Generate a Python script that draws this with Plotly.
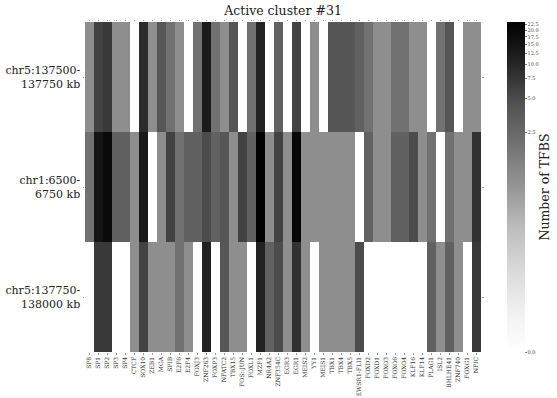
import numpy as np
import plotly.graph_objects as go

tfs = ["SP8", "SP1", "SP2", "SP3", "SP4", "CTCF", "SOX10", "ZEB1", "MGA", "SPIB",
       "E2F6", "E2F4", "FOXJ3", "ZNF263", "FOXP3", "NFATC2", "TBX15", "FOS::JUN",
       "FOXL1", "MZF1", "NR4A2", "ZNF354C", "EGR3", "EGR1", "MEIS2", "YY1", "MEIS1",
       "TBX1", "TBX4", "TBX5", "EWSR1-FLI1", "FOXD2", "FOXD1", "FOXO3", "FOXO6",
       "FOXO4", "KLF16", "KLF14", "PLAG1", "ISL2", "BHLHE41", "ZNF740", "FOXG1", "NFIC"]

regions = ["chr5:137500-<br>137750 kb", "chr1:6500-<br>6750 kb", "chr5:137750-<br>138000 kb"]

counts_chr5_137500 = [1, 6, 7, 1, 1, 0, 9, 1, 4, 2, 1, 0, 2, 13, 2, 1, 4, 0, 2, 11, 0, 3,
                      0, 6, 0, 1, 0, 4, 4, 4, 3, 2, 1, 1, 2, 2, 1, 1, 0, 2, 4, 0, 1, 1]
counts_chr1_6500 = [2, 15, 19, 3, 3, 1, 13, 0, 1, 6, 2, 3, 3, 5, 3, 4, 1, 6, 3, 23, 1, 6,
                    1, 20, 1, 1, 1, 1, 1, 1, 0, 3, 1, 1, 3, 3, 5, 1, 2, 0, 2, 1, 1, 8]
counts_chr5_137750 = [0, 7, 7, 0, 0, 1, 6, 1, 1, 1, 2, 1, 0, 11, 0, 4, 1, 1, 0, 11, 3, 5,
                      1, 8, 1, 0, 1, 1, 1, 1, 5, 0, 0, 0, 0, 0, 0, 0, 3, 1, 3, 1, 0, 7]

cb_ticks = [0.0, 2.5, 5.0, 7.5, 10.0, 12.5, 15.0, 17.5, 20.0, 22.5]

# nonlinear (log-like) colour normalisation
C = 0.03
VMAX = 23.6


def norm(x):
    return np.log1p(np.asarray(x, dtype=float) / C) / np.log1p(VMAX / C)


counts = np.array([counts_chr5_137500, counts_chr1_6500, counts_chr5_137750])
z = norm(counts)

greys = [[0.0, "#ffffff"], [0.125, "#f0f0f0"], [0.25, "#d9d9d9"], [0.375, "#bdbdbd"],
         [0.5, "#969696"], [0.625, "#737373"], [0.75, "#525252"], [0.875, "#252525"],
         [1.0, "#000000"]]

FONT = "DejaVu Serif"

fig = go.Figure(go.Heatmap(
    z=z, x=tfs, y=regions, customdata=counts,
    hovertemplate="%{y}<br>%{x}: %{customdata}<extra></extra>",
    colorscale=greys, zmin=0, zmax=1,
    colorbar=dict(
        x=(507 - 85) / 396, xanchor="left", xref="paper", xpad=0, ypad=0,
        y=0.5, yanchor="middle", len=1.0, lenmode="fraction",
        thickness=18, outlinewidth=0,
        tickvals=list(norm(cb_ticks)), ticktext=[f"{v:.1f}" for v in cb_ticks],
        ticks="outside", ticklen=2, tickwidth=0.6, tickcolor="#777",
        tickfont=dict(family=FONT, size=5, color="#444"),
        title=dict(text="Number of TFBS", side="right",
                   font=dict(family=FONT, size=12.5, color="#222")),
    ),
))

fig.update_layout(
    width=557, height=398,
    margin=dict(l=85, r=76, t=22, b=46, autoexpand=False),
    paper_bgcolor="white", plot_bgcolor="white",
    font=dict(family=FONT, color="#222"),
    title=dict(text="Active cluster #31", x=(283) / 557, xanchor="center",
               y=1 - 11 / 398, yanchor="middle",
               font=dict(family=FONT, size=12.5, color="#222")),
)
fig.update_xaxes(tickangle=-90, tickfont=dict(family=FONT, size=6, color="#333"),
                 ticks="outside", ticklen=1.5, tickcolor="#999", tickwidth=0.6,
                 mirror="ticks", showgrid=False, zeroline=False, showline=False)
fig.update_yaxes(autorange="reversed", tickfont=dict(family=FONT, size=11, color="#222"),
                 ticks="outside", ticklen=1.5, tickcolor="#999", tickwidth=0.6,
                 mirror="ticks", showgrid=False, zeroline=False, showline=False)

fig.write_html("out.html")
